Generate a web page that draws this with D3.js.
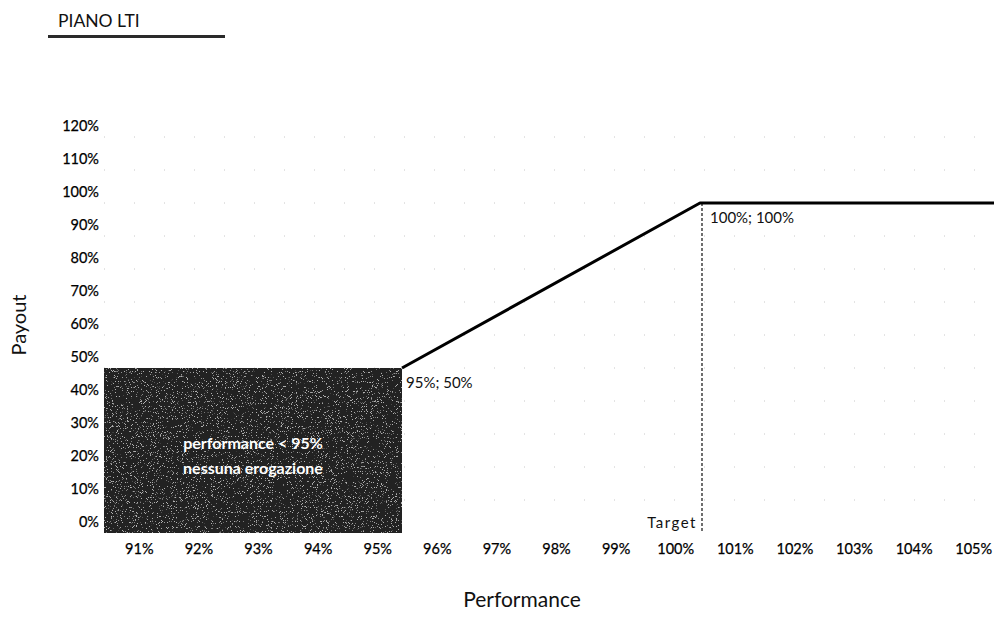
<!DOCTYPE html>
<html>
<head>
<meta charset="utf-8">
<script src="https://cdn.jsdelivr.net/npm/d3@7/dist/d3.min.js"></script>
<style>
  body { margin: 0; background: #fff; }
  svg { display: block; font-family: Lato, "Open Sans", sans-serif; }
</style>
</head>
<body>
<svg id="chart" width="994" height="634"></svg>
<script>
// Performance categories on the x axis
const perfLabels = ["91%","92%","93%","94%","95%","96%","97%","98%","99%","100%","101%","102%","103%","104%","105%"];
const perfValues = [91,92,93,94,95,96,97,98,99,100,101,102,103,104,105];
// Payout ticks on the y axis
const payoutTicks = [0,10,20,30,40,50,60,70,80,90,100,110,120];
// Payout curve: performance (%) -> payout (%)
const curvePerf   = [95, 100, 105];
const curvePayout = [50, 100, 100];
// No-payout zone
const zonePerf   = [90, 95];
const zonePayout = [0, 50];
// Point labels
const pointLabels = [
  { perf: 95,  payout: 50,  text: "95%; 50%" },
  { perf: 100, payout: 100, text: "100%; 100%" }
];
const targetPerf = 100;

const svg = d3.select("#chart");

const x = d3.scaleLinear().domain([90, 105]).range([104, 998]);
const y = d3.scaleLinear().domain([0, 100]).range([533, 203]);

// grain filter for the no-payout zone: sparse light specks over the dark fill
const defs = svg.append("defs");
const grain = defs.append("filter").attr("id", "grain")
  .attr("x", 0).attr("y", 0).attr("width", 1).attr("height", 1);
grain.append("feTurbulence").attr("type", "fractalNoise")
  .attr("baseFrequency", 1.2).attr("numOctaves", 2).attr("seed", 7).attr("result", "noise");
grain.append("feColorMatrix").attr("in", "noise").attr("type", "matrix")
  .attr("values", "0 0 0 0 0.8  0 0 0 0 0.8  0 0 0 0 0.8  -14 0 0 0 5.0").attr("result", "specks");
grain.append("feComponentTransfer").attr("in", "specks").attr("result", "soft")
  .append("feFuncA").attr("type", "linear").attr("slope", 0.55);
grain.append("feComposite").attr("in", "soft").attr("in2", "SourceGraphic").attr("operator", "in").attr("result", "clipped");
grain.append("feMerge").call(m => {
  m.append("feMergeNode").attr("in", "SourceGraphic");
  m.append("feMergeNode").attr("in", "clipped");
});

// title
svg.append("text").attr("x", 58).attr("y", 27)
  .attr("font-size", 17.5).attr("fill", "#111").text("PIANO LTI");
svg.append("rect").attr("x", 48).attr("y", 35).attr("width", 177).attr("height", 3)
  .attr("fill", "#2a2a2a");

// faint gridlines
svg.append("g").selectAll("line").data(payoutTicks.filter(d => d > 0)).join("line")
  .attr("x1", 104).attr("x2", 994)
  .attr("y1", d => y(d)).attr("y2", d => y(d))
  .attr("stroke", "#c8c8c8").attr("stroke-width", 1)
  .attr("stroke-dasharray", "1,29");

// y axis labels
const yAxis = d3.axisLeft(y).tickValues(payoutTicks).tickFormat(d => d + "%").tickSize(0).tickPadding(0);
const yg = svg.append("g").attr("transform", "translate(99,-11)").call(yAxis);
yg.select(".domain").remove();
yg.selectAll("text").attr("font-size", 14.5).attr("fill", "#000")
  .attr("stroke", "#000").attr("stroke-width", 0.25).attr("font-family", "Lato, sans-serif");

// x axis labels, each one centred in the band that ends at its value
const xAxis = d3.axisBottom(x).tickValues(perfValues)
  .tickFormat((d, i) => perfLabels[i]).tickSize(0).tickPadding(0);
const xg = svg.append("g").attr("transform", "translate(0,544)").call(xAxis);
xg.select(".domain").remove();
xg.selectAll(".tick text")
  .attr("x", (d) => (x(d - 0.5) - x(d)) + 5)
  .attr("font-size", 14.5).attr("fill", "#000")
  .attr("stroke", "#000").attr("stroke-width", 0.25).attr("font-family", "Lato, sans-serif");

// no-payout zone
svg.append("rect")
  .attr("x", x(zonePerf[0])).attr("y", y(zonePayout[1]))
  .attr("width", x(zonePerf[1]) - x(zonePerf[0]))
  .attr("height", y(zonePayout[0]) - y(zonePayout[1]))
  .attr("fill", "#202020").attr("filter", "url(#grain)");
const zoneCx = (x(zonePerf[0]) + x(zonePerf[1])) / 2;
svg.append("text").attr("x", zoneCx).attr("y", 449).attr("text-anchor", "middle")
  .attr("font-size", 16).attr("font-weight", 700).attr("fill", "#fff").text("performance < 95%");
svg.append("text").attr("x", zoneCx).attr("y", 474).attr("text-anchor", "middle")
  .attr("font-size", 16).attr("font-weight", 700).attr("fill", "#fff").text("nessuna erogazione");

// target marker
svg.append("line")
  .attr("x1", x(targetPerf) + 2).attr("x2", x(targetPerf) + 2)
  .attr("y1", y(100)).attr("y2", y(0))
  .attr("stroke", "#222").attr("stroke-width", 1.3).attr("stroke-dasharray", "3,2");
svg.append("text").attr("x", x(targetPerf) - 3).attr("y", 528).attr("text-anchor", "end")
  .attr("font-size", 15).attr("letter-spacing", 1.5).attr("fill", "#111").text("Target");

// payout curve
const line = d3.line().x((d, i) => x(curvePerf[i])).y((d, i) => y(curvePayout[i]));
svg.append("path").datum(curvePerf).attr("d", line)
  .attr("fill", "none").attr("stroke", "#000").attr("stroke-width", 3)
  .attr("stroke-linejoin", "round");

// point labels
svg.append("g").selectAll("text").data(pointLabels).join("text")
  .attr("x", d => x(d.perf) + 4 + (d.perf === 100 ? 6 : 0))
  .attr("y", d => y(d.payout) + 20)
  .attr("font-size", 15).attr("fill", "#111").text(d => d.text);

// axis titles
svg.append("text").attr("x", 522).attr("y", 607).attr("text-anchor", "middle")
  .attr("font-size", 21).attr("fill", "#111").text("Performance");
svg.append("text").attr("transform", "translate(26,325) rotate(-90)").attr("text-anchor", "middle")
  .attr("font-size", 20).attr("fill", "#111").text("Payout");
</script>
</body>
</html>
